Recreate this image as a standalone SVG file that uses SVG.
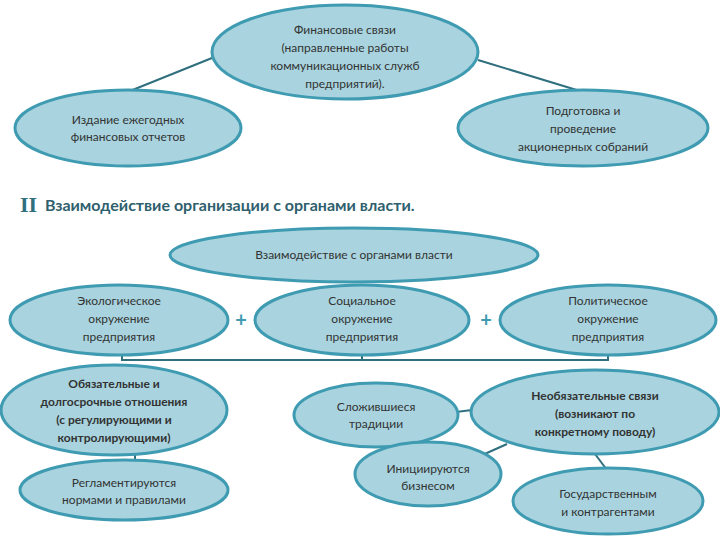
<svg xmlns="http://www.w3.org/2000/svg" width="720" height="540" viewBox="0 0 720 540">
<style>
.n{fill:#a8d3df;stroke:#3f9bb1;stroke-width:3}
.t{font-family:Lato,"Open Sans",sans-serif;font-size:12px;fill:#333;text-anchor:middle}
.b{font-weight:bold}
.c{stroke:#2f6f7e;stroke-width:2;fill:none}
.p{font-family:Lato,sans-serif;font-size:20px;font-weight:bold;fill:#3f9bb1;text-anchor:middle}
</style>
<rect width="720" height="540" fill="#fff"/>
<g id="connectors">
<line class="c" x1="212" y1="58" x2="130" y2="91"/>
<line class="c" x1="478" y1="60" x2="580" y2="91"/>
<path class="c" d="M122,355 V360 H608 V355 M362,355 V360"/>
<line class="c" x1="135" y1="455" x2="135" y2="461"/>
<line class="c" x1="456" y1="412" x2="472" y2="410"/>
<line class="c" x1="507" y1="444" x2="478" y2="457"/>
<line class="c" x1="595" y1="454" x2="610" y2="474"/>
</g>
<g id="n1"><ellipse class="n" cx="345" cy="52" rx="133" ry="47"/>
<text class="t" x="345" y="34">Финансовые связи</text><text class="t" x="345" y="52">(направленные работы</text><text class="t" x="345" y="70">коммуникационных служб</text><text class="t" x="345" y="88">предприятий).</text></g>
<g id="n2"><ellipse class="n" cx="128" cy="128" rx="113" ry="38"/>
<text class="t" x="128" y="124">Издание ежегодных</text><text class="t" x="128" y="141">финансовых отчетов</text></g>
<g id="n3"><ellipse class="n" cx="583" cy="128" rx="125" ry="38"/>
<text class="t" x="583" y="115">Подготовка и</text><text class="t" x="583" y="133">проведение</text><text class="t" x="583" y="151">акционерных собраний</text></g>
<g id="heading">
<text x="20" y="212" style="font-family:'Liberation Serif',serif;font-size:22px;font-weight:bold;fill:#2f6f7e">II</text>
<text x="45" y="211" style="font-family:Lato,sans-serif;font-size:16px;font-weight:bold;fill:#2f5f6e">Взаимодействие организации с органами власти.</text>
</g>
<g id="n4"><ellipse class="n" cx="354" cy="255" rx="184" ry="27"/>
<text class="t" x="354" y="259">Взаимодействие с органами власти</text></g>
<g id="n5"><ellipse class="n" cx="119" cy="320" rx="109" ry="35"/>
<text class="t" x="119" y="305">Экологическое</text><text class="t" x="119" y="323">окружение</text><text class="t" x="119" y="341">предприятия</text></g>
<g id="n6"><ellipse class="n" cx="362" cy="320" rx="107" ry="35"/>
<text class="t" x="362" y="305">Социальное</text><text class="t" x="362" y="323">окружение</text><text class="t" x="362" y="341">предприятия</text></g>
<g id="n7"><ellipse class="n" cx="608" cy="320" rx="108" ry="35"/>
<text class="t" x="608" y="305">Политическое</text><text class="t" x="608" y="323">окружение</text><text class="t" x="608" y="341">предприятия</text></g>
<text class="p" x="241" y="327">+</text><text class="p" x="486" y="327">+</text>
<g id="n8"><ellipse class="n" cx="114" cy="410" rx="113" ry="45"/>
<text class="t b" x="114" y="388">Обязательные и</text><text class="t b" x="114" y="406">долгосрочные отношения</text><text class="t b" x="114" y="424">(с регулирующими и</text><text class="t b" x="114" y="442">контролирующими)</text></g>
<g id="n9"><ellipse class="n" cx="124" cy="490" rx="104" ry="30"/>
<text class="t" x="124" y="487">Регламентируются</text><text class="t" x="124" y="504">нормами и правилами</text></g>
<g id="n10"><ellipse class="n" cx="376" cy="415" rx="82" ry="32"/>
<text class="t" x="376" y="411">Сложившиеся</text><text class="t" x="376" y="428">традиции</text></g>
<g id="n11"><ellipse class="n" cx="595" cy="412" rx="124" ry="42"/>
<text class="t b" x="595" y="400">Необязательные связи</text><text class="t b" x="595" y="418">(возникают по</text><text class="t b" x="595" y="436">конкретному поводу)</text></g>
<g id="n12"><ellipse class="n" cx="428" cy="474" rx="73" ry="32"/>
<text class="t" x="428" y="473">Инициируются</text><text class="t" x="428" y="490">бизнесом</text></g>
<g id="n13"><ellipse class="n" cx="608" cy="501" rx="95" ry="33"/>
<text class="t" x="608" y="498">Государственным</text><text class="t" x="608" y="516">и контрагентами</text></g>
</svg>
